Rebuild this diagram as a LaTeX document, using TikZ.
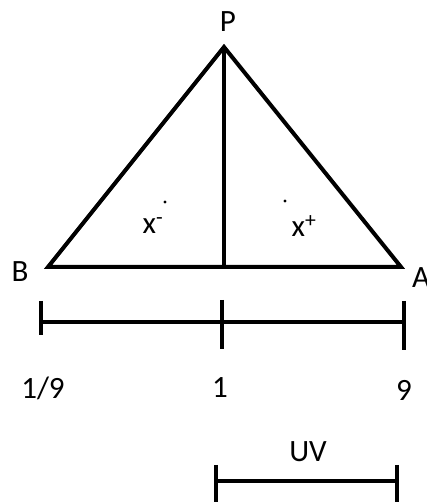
\documentclass[tikz,border=0pt]{standalone}
\usepackage{fontspec}
\setmainfont{Carlito}
\usetikzlibrary{positioning}

\begin{document}
\begin{tikzpicture}[
  x=1pt, y=1pt,
  edge/.style={line width=4pt, line join=miter},
  lbl/.style={font=\fontsize{31}{36}\selectfont, inner sep=0pt},
  dotmark/.style={fill=black, draw=none}]
\useasboundingbox (0,0) rectangle (426,502);
% triangle
\coordinate (P) at (224,455);
\coordinate (B) at (48,235);
\coordinate (A) at (401,235);
\coordinate (M) at (224,235);
\draw[edge] (B) -- (P) -- (A) -- cycle;
\draw[edge] (P) -- (M);
\node[lbl] (lP) at (228,480) {P};
\node[lbl] (lB) at (20,230) {B};
\node[lbl] (lA) at (421,224) {A};
\node[lbl] (xm) at (153,276) {x\textsuperscript{-}};
\node[lbl] (xp) at (304,276) {x\textsuperscript{+}};
\fill[dotmark] (165,300) circle (1.6);
\fill[dotmark] (285,301) circle (1.6);
% scale
\coordinate (s1) at (41,180);
\coordinate (s2) at (222,180);
\coordinate (s3) at (404,180);
\draw[edge] (s1) -- (s3);
\draw[edge] (41,201) -- (41,167);
\draw[edge] (222,202) -- (222,153);
\draw[edge] (404,201) -- (404,152);
\node[lbl] (n1) at (43,114) {1/9};
\node[lbl] (n2) at (220,114) {1};
\node[lbl] (n3) at (404,112) {9};
% unit
\coordinate (u1) at (216,21);
\coordinate (u2) at (397,21);
\draw[edge] (u1) -- (u2);
\draw[edge] (216,37) -- (216,-5);
\draw[edge] (397,37) -- (397,-5);
\node[lbl] (uv) at (308,50) {UV};
\end{tikzpicture}
\end{document}
